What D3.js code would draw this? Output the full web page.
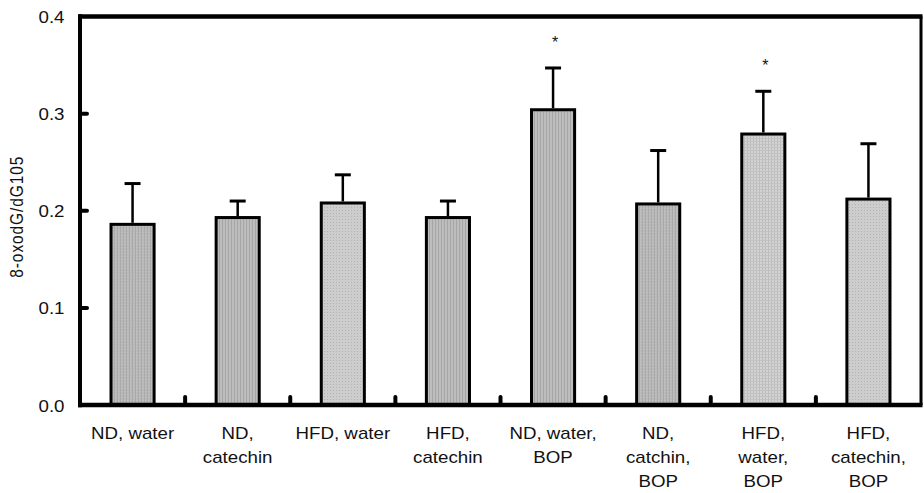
<!DOCTYPE html>
<html>
<head>
<meta charset="utf-8">
<script src="https://cdn.jsdelivr.net/npm/d3@7"></script>
<style>
  body { margin: 0; background: #fff; }
  text { font-family: "Liberation Sans", Arial, sans-serif; fill: #111; }
</style>
</head>
<body>
<svg id="chart" width="924" height="493"></svg>
<script>
// Data
var categories = [
    ["ND, water"],
    ["ND,", "catechin"],
    ["HFD, water"],
    ["HFD,", "catechin"],
    ["ND, water,", "BOP"],
    ["ND,", "catchin,", "BOP"],
    ["HFD,", "water,", "BOP"],
    ["HFD,", "catechin,", "BOP"]
];
var means = [0.186, 0.193, 0.208, 0.193, 0.304, 0.207, 0.279, 0.212];
var errors = [0.042, 0.017, 0.029, 0.017, 0.043, 0.055, 0.044, 0.057];
var significant = [false, false, false, false, true, false, true, false];
var yTicks = [0.0, 0.1, 0.2, 0.3, 0.4];

// Fill texture for each bar (style only)
var barTextures = ["dark", "stripe", "light", "stripe", "stripe", "dark", "grid", "light"];

var margin = {left: 80, right: 3, top: 16.5, bottom: 88};
var width = 924, height = 493;
var svg = d3.select("#chart");
var xStretch = 1.17;

var x = d3.scaleBand()
    .domain(d3.range(categories.length))
    .range([margin.left, width - margin.right])
    .paddingInner(0.59)
    .paddingOuter(0.295);

var y = d3.scaleLinear()
    .domain([0, 0.4])
    .range([height - margin.bottom, margin.top]);

// Patterns
var defs = svg.append("defs");

var pDark = defs.append("pattern").attr("id", "dark")
    .attr("patternUnits", "userSpaceOnUse").attr("width", 3).attr("height", 3);
pDark.append("rect").attr("width", 3).attr("height", 3).attr("fill", "#b9b9b9");
pDark.append("rect").attr("width", 1).attr("height", 3).attr("fill", "#a9a9a9");
pDark.append("rect").attr("x", 1).attr("y", 1).attr("width", 1).attr("height", 1).attr("fill", "#c4c4c4");

var pStripe = defs.append("pattern").attr("id", "stripe")
    .attr("patternUnits", "userSpaceOnUse").attr("width", 3).attr("height", 2);
pStripe.append("rect").attr("width", 3).attr("height", 2).attr("fill", "#bdbdbd");
pStripe.append("rect").attr("width", 1).attr("height", 2).attr("fill", "#a6a6a6");

var pLight = defs.append("pattern").attr("id", "light")
    .attr("patternUnits", "userSpaceOnUse").attr("width", 3).attr("height", 3);
pLight.append("rect").attr("width", 3).attr("height", 3).attr("fill", "#cdcdcd");
pLight.append("rect").attr("width", 1).attr("height", 1).attr("fill", "#b2b2b2");

var pGrid = defs.append("pattern").attr("id", "grid")
    .attr("patternUnits", "userSpaceOnUse").attr("width", 3).attr("height", 3);
pGrid.append("rect").attr("width", 3).attr("height", 3).attr("fill", "#d3d3d3");
pGrid.append("rect").attr("width", 1).attr("height", 3).attr("fill", "#bcbcbc");
pGrid.append("rect").attr("width", 3).attr("height", 1).attr("fill", "#c2c2c2");

// Frame (top and right)
svg.append("line")
    .attr("x1", margin.left - 2).attr("x2", width - margin.right + 1.5)
    .attr("y1", y(0.4)).attr("y2", y(0.4))
    .attr("stroke", "#000").attr("stroke-width", 4.5);
svg.append("line")
    .attr("x1", width - margin.right).attr("x2", width - margin.right)
    .attr("y1", y(0.4)).attr("y2", y(0))
    .attr("stroke", "#000").attr("stroke-width", 3);

// Bars
svg.append("g").selectAll("rect")
    .data(means)
    .enter().append("rect")
    .attr("x", function(d, i) { return x(i); })
    .attr("width", x.bandwidth())
    .attr("y", function(d) { return y(d); })
    .attr("height", function(d) { return y(0) - y(d); })
    .attr("fill", function(d, i) { return "url(#" + barTextures[i] + ")"; })
    .attr("stroke", "#000")
    .attr("stroke-width", 3);

// Error bars (upper only)
var err = svg.append("g").selectAll("g")
    .data(means)
    .enter().append("g");

err.append("line")
    .attr("x1", function(d, i) { return x(i) + x.bandwidth() / 2; })
    .attr("x2", function(d, i) { return x(i) + x.bandwidth() / 2; })
    .attr("y1", function(d) { return y(d) - 1.5; })
    .attr("y2", function(d, i) { return y(d + errors[i]); })
    .attr("stroke", "#000").attr("stroke-width", 2.5);

err.append("line")
    .attr("x1", function(d, i) { return x(i) + x.bandwidth() / 2 - 8; })
    .attr("x2", function(d, i) { return x(i) + x.bandwidth() / 2 + 8; })
    .attr("y1", function(d, i) { return y(d + errors[i]); })
    .attr("y2", function(d, i) { return y(d + errors[i]); })
    .attr("stroke", "#000").attr("stroke-width", 3);

// Significance stars
svg.append("g").selectAll("text")
    .data(d3.range(means.length).filter(function(i) { return significant[i]; }))
    .enter().append("text")
    .attr("x", function(i) { return x(i) + x.bandwidth() / 2 + 2; })
    .attr("y", function(i) { return y(means[i] + errors[i]) - 20; })
    .attr("text-anchor", "middle")
    .style("font-size", "16px")
    .text("*");

// Y axis
svg.append("line")
    .attr("x1", margin.left).attr("x2", margin.left)
    .attr("y1", y(0.4) - 2.25).attr("y2", y(0) + 2.25)
    .attr("stroke", "#000").attr("stroke-width", 4);

svg.append("g").selectAll("line")
    .data(yTicks.filter(function(t) { return t > 0 && t < 0.4; }))
    .enter().append("line")
    .attr("x1", margin.left).attr("x2", margin.left + 7)
    .attr("y1", function(d) { return y(d); })
    .attr("y2", function(d) { return y(d); })
    .attr("stroke", "#000").attr("stroke-width", 4)
    .attr("stroke-linecap", "round");

svg.append("g").selectAll("text")
    .data(yTicks)
    .enter().append("text")
    .attr("transform", function(d) {
        return "translate(64.5," + (y(d) + 6.5) + ") scale(" + xStretch + ",1)";
    })
    .attr("text-anchor", "end")
    .style("font-size", "16px")
    .text(d3.format(".1f"));

// X axis
svg.append("line")
    .attr("x1", margin.left - 2).attr("x2", width - margin.right + 1.5)
    .attr("y1", y(0)).attr("y2", y(0))
    .attr("stroke", "#000").attr("stroke-width", 4.5);

svg.append("g").selectAll("line")
    .data(d3.range(1, categories.length))
    .enter().append("line")
    .attr("x1", function(i) { return x(i) - x.step() * x.paddingInner() / 2; })
    .attr("x2", function(i) { return x(i) - x.step() * x.paddingInner() / 2; })
    .attr("y1", y(0)).attr("y2", y(0) - 8)
    .attr("stroke", "#000").attr("stroke-width", 4)
    .attr("stroke-linecap", "round");

// Category labels
svg.append("g").selectAll("g")
    .data(categories)
    .enter().append("g")
    .each(function(lines, i) {
        var g = d3.select(this);
        lines.forEach(function(line, j) {
            g.append("text")
                .attr("transform", "translate(" + (x(i) + x.bandwidth() / 2) + "," + (y(0) + 34 + j * 24) + ") scale(" + xStretch + ",1)")
                .attr("text-anchor", "middle")
                .style("font-size", "16px")
                .text(line);
        });
    });

// Y axis title
svg.append("text")
    .attr("transform", "translate(23," + (y(0.2) + 6) + ") rotate(-90) scale(1," + xStretch + ")")
    .attr("text-anchor", "middle")
    .style("font-size", "15.5px")
    .style("letter-spacing", "0.9px")
    .text("8-oxodG/dG105");
</script>
</body>
</html>
